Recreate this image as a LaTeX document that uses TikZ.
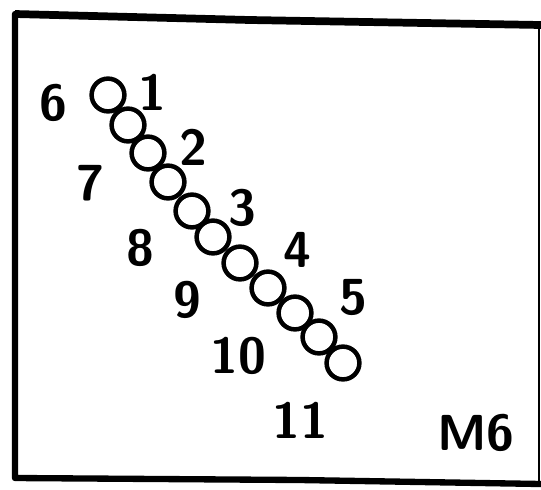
\documentclass[tikz,border=0pt]{standalone}
\usepackage{tikz}

\tikzset{
    bead/.style={draw=black, line width=3.2pt, circle, minimum size=0.82cm, inner sep=0pt},
    num/.style={font=\fontsize{36}{38}\selectfont\sffamily\bfseries, inner sep=0pt},
}

\begin{document}
\begin{tikzpicture}[x=0.025cm, y=-0.025cm]
    \useasboundingbox (0,0) rectangle (541,489);

    % Frame
    \draw[line width=4.5pt, line cap=round, line join=round] (15,14) -- (15,478) -- (300,480) -- (541,484);
    \draw[line width=5.5pt] (15,14) -- (250,20) -- (541,25);
    \draw[line width=1.5pt] (539,25) -- (539,484);

    % Beads
    \foreach \x/\y [count=\i] in {108/95, 128/125, 148/153, 168/182, 192/211, 213/237,
                                  240/263, 268/288, 295/313, 319/337, 343/363} {
        \node[bead] (c\i) at (\x,\y) {};
    }

    % Numbers, upper side
    \node[num] (n1) at (152,92) {1};
    \node[num] (n2) at (193,147) {2};
    \node[num] (n3) at (242,208) {3};
    \node[num] (n4) at (297,250) {4};
    \node[num] (n5) at (353,297) {5};

    % Numbers, lower side
    \node[num] (n6) at (53,103) {6};
    \node[num] (n7) at (90,183) {7};
    \node[num] (n8) at (140,248) {8};
    \node[num] (n9) at (187,300) {9};
    \node[num] (n10) at (238,356) {10};
    \node[num] (n11) at (300,420) {11};

    % Tag
    \node[num] (tag) at (476,433) {M6};
\end{tikzpicture}
\end{document}
